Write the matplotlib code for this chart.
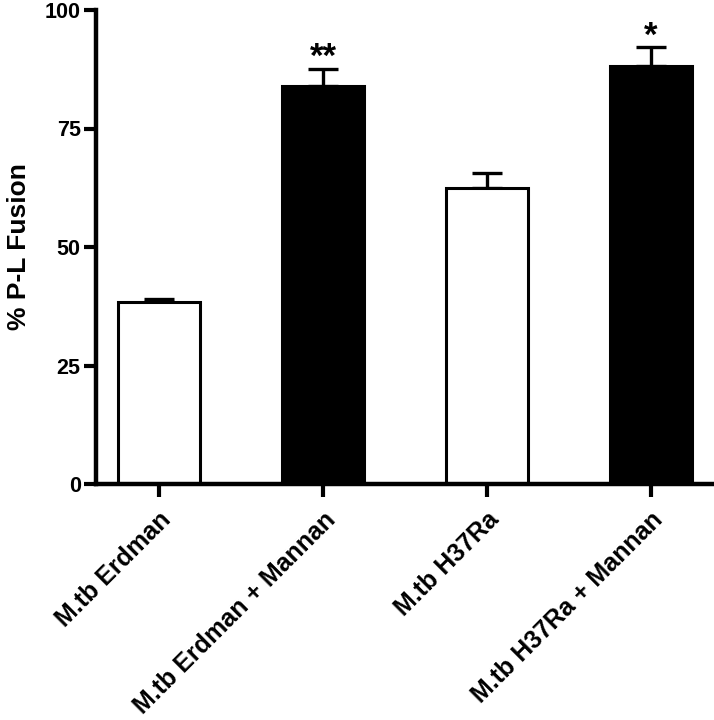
import matplotlib.pyplot as plt

plt.rcParams['font.family'] = ['Liberation Sans', 'DejaVu Sans']
plt.rcParams['font.weight'] = 'bold'

# ---------------------- data ----------------------
groups = ['M.tb Erdman', 'M.tb Erdman + Mannan', 'M.tb H37Ra', 'M.tb H37Ra + Mannan']
fusion = [38.4, 84.0, 62.5, 88.2]
sem = [0.6, 3.6, 3.1, 4.0]
colors = ['white', 'black', 'white', 'black']
stars = ['', '**', '', '*']

fig = plt.figure(figsize=(7.14, 7.2), dpi=100)
ax = fig.add_axes([96 / 714, 1 - 484 / 720, 1 - 96 / 714, 474 / 720])

x = range(len(groups))
ax.bar(x, fusion, width=0.5, color=colors, edgecolor='black', linewidth=2.2, zorder=2)
ax.errorbar(x, fusion, yerr=([0] * len(sem), sem), fmt='none', ecolor='black',
            elinewidth=2.4, capsize=10.5, capthick=2.4, zorder=1)

for i, s in enumerate(stars):
    if s:
        ax.text(i, fusion[i] + sem[i] + 0.3, s, ha='center', va='baseline',
                fontsize=25, fontweight='bold')

ax.set_xlim(-0.384, 3.384)
ax.set_ylim(0, 100)
ax.set_yticks([0, 25, 50, 75, 100])
ax.set_xticks(list(x))
ax.set_xticklabels(groups, rotation=45, ha='right', rotation_mode='anchor',
                   fontsize=18, fontweight='bold')
ax.tick_params(axis='y', labelsize=15.5, width=3, length=9, pad=2)
ax.tick_params(axis='x', width=3, length=9, pad=8)
ax.set_ylabel('% P-L Fusion', fontsize=19, fontweight='bold', labelpad=10)

for side in ['top', 'right']:
    ax.spines[side].set_visible(False)
for side in ['left', 'bottom']:
    ax.spines[side].set_linewidth(3.2)

plt.savefig('out.png', dpi=100)
